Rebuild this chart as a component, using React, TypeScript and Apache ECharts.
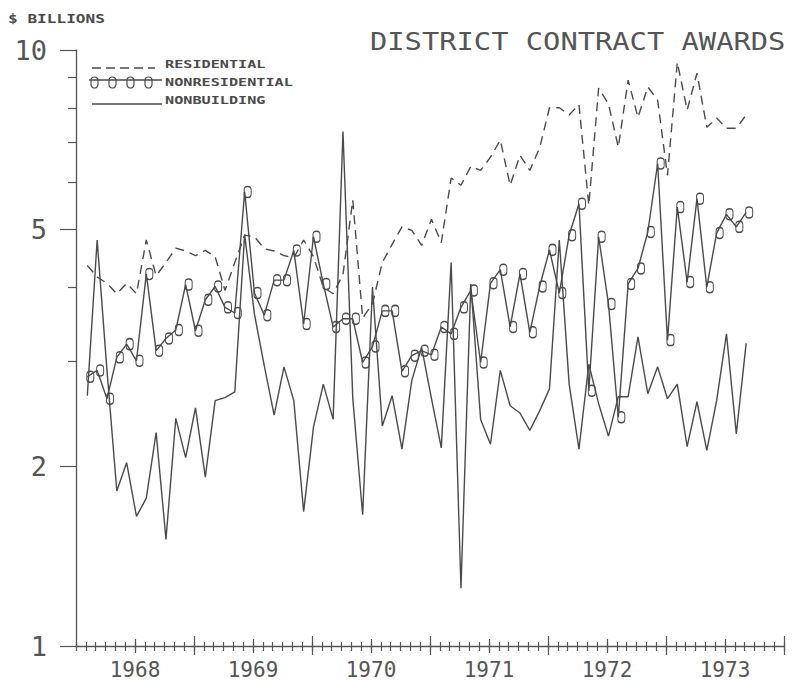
import React, { useEffect, useRef } from "react";
import * as echarts from "echarts";

// ---------- data ----------
const TITLE = "DISTRICT CONTRACT AWARDS";
const UNIT_LABEL = "$ BILLIONS";
const SERIES_NAMES = ["RESIDENTIAL", "NONRESIDENTIAL", "NONBUILDING"];
const START_YEAR = 1968;
const YEAR_LABELS = ["1968", "1969", "1970", "1971", "1972", "1973"];
const Y_MAJOR_TICKS = [1, 2, 5, 10];
const Y_MINOR_TICKS = [3, 4, 6, 7, 8, 9];
// first monthly observation, in months after the start of 1968
const FIRST_OBS_MONTH = 1.15;

const residential = [
  4.35, 4.16, 4.06, 3.9, 4.06, 3.9, 4.8, 4.18, 4.4, 4.65, 4.6, 4.52,
  4.61, 4.5, 3.95, 4.4, 4.89, 4.86, 4.64, 4.6, 4.52, 4.48, 4.8, 4.5,
  4.0, 3.9, 4.2, 5.6, 3.55, 3.75, 4.4, 4.72, 5.05, 4.98, 4.7, 5.2,
  4.75, 6.1, 5.93, 6.38, 6.28, 6.61, 7.06, 5.93, 6.66, 6.28, 6.85, 8.0,
  8.0, 7.78, 8.1, 5.49, 8.63, 8.12, 6.87, 8.9, 7.71, 8.67, 8.24, 6.16,
  9.54, 7.93, 9.14, 7.42, 7.69, 7.39, 7.39, 7.78,
];

const nonresidential = [
  2.83, 2.9, 2.6, 3.05, 3.21, 3.01, 4.21, 3.13, 3.28, 3.39, 4.04, 3.38,
  3.81, 4.01, 3.7, 3.62, 5.78, 3.91, 3.59, 4.11, 4.11, 4.61, 3.47, 4.86,
  4.05, 3.43, 3.54, 3.54, 2.99, 3.18, 3.65, 3.65, 2.89, 3.07, 3.13, 3.08,
  3.43, 3.34, 3.7, 3.95, 2.99, 4.06, 4.28, 3.43, 4.21, 3.36, 4.01, 4.62,
  3.91, 4.89, 5.52, 2.68, 4.86, 3.75, 2.42, 4.05, 4.3, 4.95, 6.45, 3.26,
  5.45, 4.08, 5.63, 4.0, 4.93, 5.3, 5.05, 5.34,
];

const nonbuilding = [
  2.63, 4.8, 2.9, 1.82, 2.03, 1.65, 1.77, 2.28, 1.51, 2.41, 2.07, 2.51,
  1.92, 2.58, 2.61, 2.67, 4.9, 3.6, 2.95, 2.44, 2.94, 2.58, 1.68, 2.33,
  2.75, 2.4, 7.3, 2.6, 1.66, 4.0, 2.34, 2.63, 2.14, 2.79, 3.17, 2.6,
  2.15, 4.4, 1.25, 4.05, 2.4, 2.18, 2.9, 2.53, 2.46, 2.3, 2.48, 2.7,
  4.8, 2.75, 2.14, 2.97, 2.55, 2.25, 2.62, 2.62, 3.3, 2.65, 2.94, 2.6,
  2.75, 2.16, 2.57, 2.13, 2.58, 3.34, 2.27, 3.22,
];

// ---------- styling ----------
const INK = "#4a4a4a";
const AXIS_INK = "#555";
const MONO = "'DejaVu Sans Mono', 'Liberation Mono', monospace";
const ZERO_PATH =
  "path://M3,0C4.7,0 6,1.5 6,3.5L6,8.5C6,10.5 4.7,12 3,12C1.3,12 0,10.5 0,8.5L0,3.5C0,1.5 1.3,0 3,0Z";

const toPoints = (arr: number[]) => arr.map((v, i) => [i + FIRST_OBS_MONTH, v]);

const TOTAL_MONTHS = YEAR_LABELS.length * 12;
const midYears = YEAR_LABELS.map((_, i) => 6 + 12 * i);
const yearEdges = YEAR_LABELS.map((_, i) => 12 * (i + 1));

function xAxisBase(extra: any) {
  return {
    type: "value",
    min: 0,
    max: TOTAL_MONTHS,
    position: "bottom",
    splitLine: { show: false },
    axisLine: { show: false, onZero: false },
    axisLabel: { show: false },
    ...extra,
  };
}

function tick(length: number, inside: boolean, custom?: number[]) {
  const t: any = {
    show: true,
    length,
    inside,
    lineStyle: { color: AXIS_INK, width: 1.2 },
  };
  if (custom) t.customValues = custom;
  return t;
}

export default function App() {
  const ref = useRef<HTMLDivElement>(null);

  useEffect(() => {
    if (!ref.current) return;
    const chart = echarts.init(ref.current, null, { renderer: "svg" });

    const legendY = [68, 80, 104];
    const legendText = [64.5, 82, 100.5];

    const option: any = {
      animation: false,
      backgroundColor: "#ffffff",
      grid: { left: 76, right: 9, top: 50, bottom: 37, containLabel: false },
      xAxis: [
        xAxisBase({
          interval: 1,
          axisLine: { show: true, onZero: false, lineStyle: { color: AXIS_INK, width: 1.3 } },
          axisTick: tick(5, false),
          axisLabel: {
            show: true,
            customValues: midYears,
            formatter: (v: number) => String(START_YEAR + Math.floor(v / 12)),
            fontFamily: MONO,
            fontSize: 21,
            color: AXIS_INK,
            margin: 13,
          },
        }),
        xAxisBase({ interval: 1, axisTick: tick(4, true) }),
        xAxisBase({ interval: 6, axisTick: tick(7, false, midYears) }),
        xAxisBase({ interval: 6, axisTick: tick(7, true, midYears) }),
        xAxisBase({ interval: 12, axisTick: tick(9, false, yearEdges) }),
        xAxisBase({ interval: 12, axisTick: tick(10, true, yearEdges) }),
      ],
      yAxis: [
        {
          type: "log",
          logBase: 10,
          min: 1,
          max: 10,
          position: "left",
          splitLine: { show: false },
          axisLine: { show: true, onZero: false, lineStyle: { color: AXIS_INK, width: 1.3 } },
          axisTick: tick(16, false, Y_MAJOR_TICKS),
          axisLabel: {
            show: true,
            customValues: Y_MAJOR_TICKS,
            formatter: (v: number) => String(v),
            fontFamily: MONO,
            fontSize: 27,
            color: AXIS_INK,
            margin: 29,
          },
        },
        {
          type: "log",
          logBase: 10,
          min: 1,
          max: 10,
          position: "left",
          splitLine: { show: false },
          axisLine: { show: false, onZero: false },
          axisTick: tick(8, false, Y_MINOR_TICKS),
          axisLabel: { show: false },
        },
      ],
      series: [
        {
          name: SERIES_NAMES[0],
          type: "line",
          data: toPoints(residential),
          symbol: "none",
          silent: true,
          lineStyle: { color: INK, width: 1.4, type: [9, 6] },
        },
        {
          name: SERIES_NAMES[1],
          type: "line",
          data: toPoints(nonresidential),
          symbol: ZERO_PATH,
          symbolSize: [7, 11],
          symbolOffset: [3, 0],
          showAllSymbol: true,
          silent: true,
          itemStyle: { color: "rgba(255,255,255,0)", borderColor: INK, borderWidth: 1.2 },
          lineStyle: { color: INK, width: 1.4 },
        },
        {
          name: SERIES_NAMES[2],
          type: "line",
          data: toPoints(nonbuilding),
          symbol: "none",
          silent: true,
          lineStyle: { color: INK, width: 1.4 },
        },
      ],
      graphic: [
        {
          type: "text",
          x: 370,
          y: 41,
          scaleX: 1.15,
          silent: true,
          style: {
            text: TITLE,
            x: 0,
            y: 0,
            fill: AXIS_INK,
            font: `normal 25px ${MONO}`,
            align: "left",
            verticalAlign: "middle",
          },
        },
        {
          type: "text",
          x: 8,
          y: 18,
          scaleX: 1.24,
          silent: true,
          style: {
            text: UNIT_LABEL,
            x: 0,
            y: 0,
            fill: INK,
            font: `bold 13px ${MONO}`,
            align: "left",
            verticalAlign: "middle",
          },
        },
        // legend samples
        {
          type: "line",
          silent: true,
          shape: { x1: 92, y1: legendY[0], x2: 155, y2: legendY[0] },
          style: { stroke: INK, lineWidth: 1.3, lineDash: [9, 5] },
        },
        {
          type: "line",
          silent: true,
          shape: { x1: 89, y1: legendY[1], x2: 162, y2: legendY[1] },
          style: { stroke: INK, lineWidth: 1.3 },
        },
        ...[91, 109, 127, 145].map((x) => ({
          type: "rect",
          silent: true,
          shape: { x, y: legendY[1] - 3, width: 7, height: 11, r: 3.5 },
          style: { fill: "none", stroke: INK, lineWidth: 1.2 },
        })),
        {
          type: "line",
          silent: true,
          shape: { x1: 92, y1: legendY[2], x2: 162, y2: legendY[2] },
          style: { stroke: INK, lineWidth: 1.3 },
        },
        ...SERIES_NAMES.map((name, i) => ({
          type: "text",
          x: 165,
          y: legendText[i],
          scaleX: 1.38,
          silent: true,
          style: {
            text: name,
            x: 0,
            y: 0,
            fill: INK,
            font: `bold 11px ${MONO}`,
            align: "left",
            verticalAlign: "middle",
          },
        })),
      ],
    };

    chart.setOption(option);
    return () => chart.dispose();
  }, []);

  return (
    <div
      ref={ref}
      style={{ position: "fixed", left: 0, top: 0, width: 793, height: 683, background: "#fff" }}
    />
  );
}
